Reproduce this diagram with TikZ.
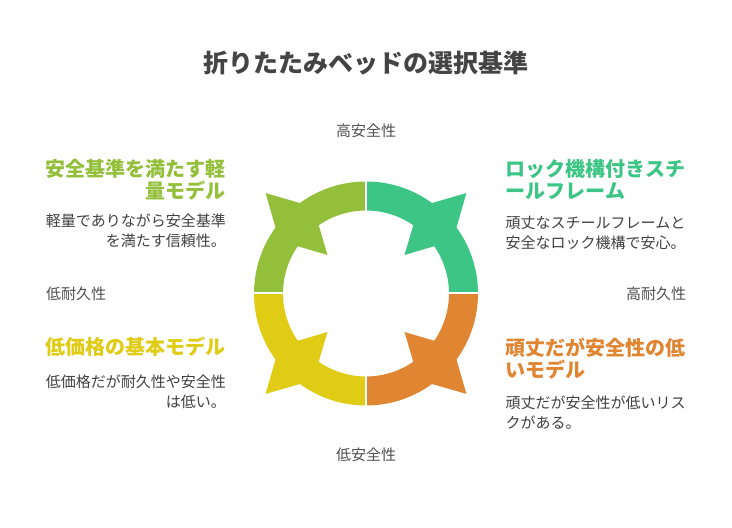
\documentclass[tikz,border=0pt]{standalone}
\usepackage{fontspec}
\setmainfont{Noto Sans CJK JP}
\usetikzlibrary{calc}
\definecolor{cgreen}{HTML}{93BF3A}
\definecolor{cteal}{HTML}{3DC585}
\definecolor{corange}{HTML}{E08531}
\definecolor{cyellow}{HTML}{E0CB15}
\definecolor{ctitle}{HTML}{444444}
\definecolor{cbody}{HTML}{404040}
\definecolor{caxis}{HTML}{505050}
\tikzset{
  pics/quad/.style={code={
    \fill[#1] (-45:112pt) arc[start angle=-45,end angle=45,radius=112pt]
      -- (45:83pt) arc[start angle=45,end angle=-45,radius=83pt] -- cycle;
    \fill[#1] (142pt,0pt) -- (98.5pt,24pt) -- (54.5pt,0pt) -- (98.5pt,-24pt) -- cycle;
  }},
  titletext/.style={font=\fontsize{25}{29}\selectfont\bfseries, text=ctitle, inner sep=0pt, anchor=base},
  headtext/.style={font=\fontsize{20}{22}\selectfont\bfseries, inner sep=0pt},
  bodytext/.style={font=\fontsize{15}{20}\selectfont, text=cbody, inner sep=0pt},
  axistext/.style={font=\fontsize{15}{18}\selectfont, text=caxis, inner sep=0pt, anchor=base},
}
\begin{document}
\begin{tikzpicture}[x=1pt,y=1pt]
\useasboundingbox (0,0) rectangle (732,528);
\fill[white] (0,0) rectangle (732,528);
\coordinate (C) at (366,234.5);
\pic[rotate=135] (qgreen) at (C) {quad=cgreen};
\pic[rotate=45] (qteal) at (C) {quad=cteal};
\pic[rotate=-45] (qorange) at (C) {quad=corange};
\pic[rotate=225] (qyellow) at (C) {quad=cyellow};
\foreach \a in {0,90,180,270}
  \draw[white,line width=2pt] ($(C)+(\a:78pt)$) -- ($(C)+(\a:116pt)$);

\node[titletext] (title) at (366,455) {折りたたみベッドの選択基準};

\node[headtext, text=cgreen, align=right, anchor=base east] (h1) at (226,329.1) {安全基準を満たす軽\\量モデル};
\node[bodytext, align=right, anchor=base east] (b1) at (226,281.3) {軽量でありながら安全基準\\を満たす信頼性。};
\node[headtext, text=cteal, align=left, anchor=base west] (h2) at (505.5,329.1) {ロック機構付きスチ\\ールフレーム};
\node[bodytext, align=left, anchor=base west] (b2) at (505.5,279.5) {頑丈なスチールフレームと\\安全なロック機構で安心。};
\node[headtext, text=cyellow, align=right, anchor=base east] (h3) at (226,173.1) {低価格の基本モデル};
\node[bodytext, align=right, anchor=base east] (b3) at (226,120.6) {低価格だが耐久性や安全性\\は低い。};
\node[headtext, text=corange, align=left, anchor=base west] (h4) at (505.5,150.1) {頑丈だが安全性の低\\いモデル};
\node[bodytext, align=left, anchor=base west] (b4) at (505.5,99) {頑丈だが安全性が低いリス\\クがある。};

\node[axistext] (a1) at (366,391.6) {高安全性};
\node[axistext] (a2) at (366,67.3) {低安全性};
\node[axistext] (a3) at (76,228.3) {低耐久性};
\node[axistext] (a4) at (656,228.3) {高耐久性};
\end{tikzpicture}
\end{document}
